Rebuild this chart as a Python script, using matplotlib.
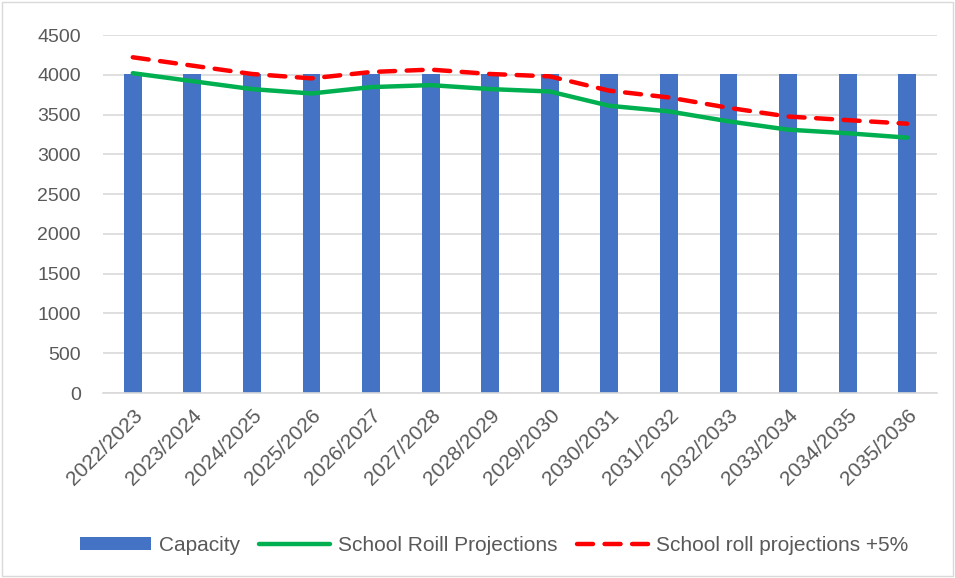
import numpy as np
import matplotlib.pyplot as plt
from matplotlib.patches import Rectangle

# Data
years = ['2022/2023', '2023/2024', '2024/2025', '2025/2026', '2026/2027',
         '2027/2028', '2028/2029', '2029/2030', '2030/2031', '2031/2032',
         '2032/2033', '2033/2034', '2034/2035', '2035/2036']
capacity = [4010] * 14
roll = [4020, 3920, 3820, 3765, 3845, 3870, 3820, 3790,
        3610, 3540, 3415, 3310, 3265, 3210]
roll_plus5 = [4220, 4115, 4010, 3955, 4035, 4065, 4010, 3980,
              3800, 3715, 3585, 3475, 3430, 3385]

plt.rcParams['font.family'] = ['Liberation Sans', 'DejaVu Sans']

fig = plt.figure(figsize=(9.55, 5.78), dpi=100)
ax = fig.add_axes([103 / 955, 1 - 393 / 578, 834 / 955, 358 / 578])

x = np.arange(len(years))
bars = ax.bar(x, capacity, width=0.3, color='#4472C4', label='Capacity', zorder=2)
l1, = ax.plot(x, roll, color='#00B050', linewidth=3.2, label='School Roill Projections',
              zorder=3, solid_capstyle='round')
l2, = ax.plot(x, roll_plus5, color='#FF0000', linewidth=3.2, linestyle=(0, (3.6, 2.6)),
              dash_capstyle='round', label='School roll projections +5%', zorder=4)

ax.set_xlim(-0.5, len(years) - 0.5)
ax.set_ylim(0, 4500)
ax.set_yticks(np.arange(0, 4501, 500))
ax.yaxis.grid(True, color='#D9D9D9', linewidth=1.2, zorder=0)
ax.set_axisbelow(True)
for s in ['top', 'right', 'left']:
    ax.spines[s].set_visible(False)
ax.spines['bottom'].set_color('#D9D9D9')
ax.spines['bottom'].set_linewidth(1.2)
ax.tick_params(axis='both', length=0, labelcolor='#595959')
ax.tick_params(axis='y', pad=16, labelsize=14)
ax.tick_params(axis='x', pad=9, labelsize=15)
ax.set_xticks(x)
ax.set_xticklabels(years, rotation=45, ha='right', rotation_mode='anchor')

ax.legend(handles=[bars, l1, l2], loc='center',
          bbox_to_anchor=(0.5 * (955 / 834) - 103 / 834 + 0.02, -0.425),
          ncol=3, frameon=False, fontsize=15, labelcolor='#595959',
          handlelength=3.4, handleheight=0.6, columnspacing=0.9, handletextpad=0.4)

fig.patches.append(Rectangle((2 / 955, 2 / 578), 951 / 955, 574 / 578,
                             transform=fig.transFigure, fill=False,
                             edgecolor='#D9D9D9', linewidth=1))

plt.savefig('out.png', dpi=100)
